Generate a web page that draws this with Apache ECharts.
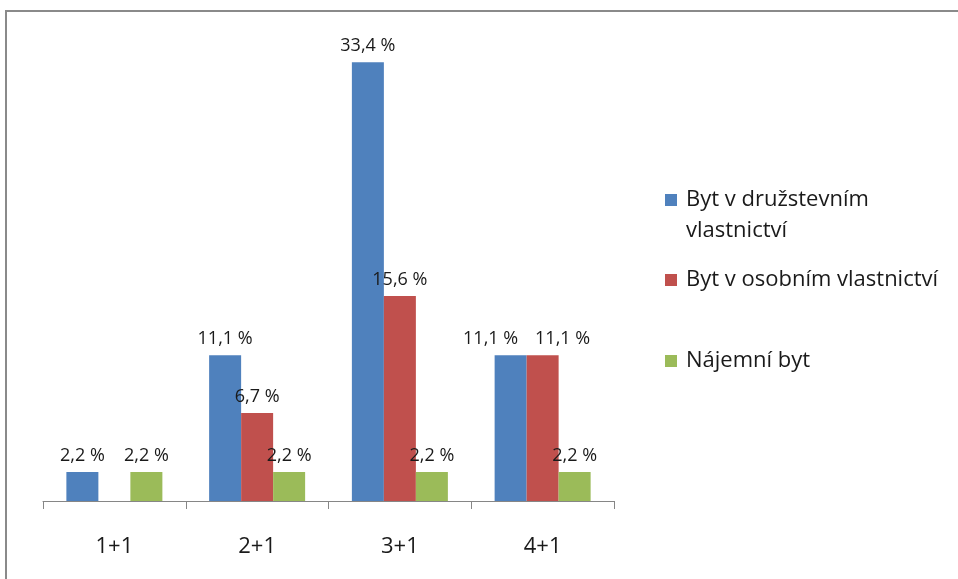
<!DOCTYPE html>
<html>
<head>
<meta charset="utf-8">
<script src="https://cdn.jsdelivr.net/npm/echarts@6/dist/echarts.min.js"></script>
<style>
  html, body { margin: 0; padding: 0; background: #fff; }
  #chart { width: 958px; height: 579px; }
</style>
</head>
<body>
<div id="chart"></div>
<script>
// Apartment types and shares by ownership type (%)
const categories = ['1+1', '2+1', '3+1', '4+1'];
const seriesNames = ['Byt v družstevním vlastnictví', 'Byt v osobním vlastnictví', 'Nájemní byt'];
const druzstevni = [2.2, 11.1, 33.4, 11.1];
const osobni = [null, 6.7, 15.6, 11.1];
const najemni = [2.2, 2.2, 2.2, 2.2];
const colors = ['#4F81BD', '#C0504D', '#9BBB59'];

const FONT = '"Open Sans", "Liberation Sans", sans-serif';

function pct(p) {
  return p.value.toFixed(1).replace('.', ',') + ' %';
}

// Side-by-side labels in the last group are nudged apart so they don't collide
function withLabelOffsets(values, offsets) {
  return values.map(function (v, i) {
    if (offsets && offsets[i]) {
      return { value: v, label: { offset: [offsets[i], 0] } };
    }
    return v;
  });
}

function barSeries(name, values, color, offsets) {
  return {
    name: name,
    type: 'bar',
    data: withLabelOffsets(values, offsets),
    barWidth: 32,
    barGap: '0%',
    itemStyle: { color: color },
    label: {
      show: true,
      position: 'top',
      distance: 7,
      formatter: pct,
      fontFamily: FONT,
      fontSize: 18,
      color: '#1a1a1a'
    }
  };
}

function legendAt(name, top, label) {
  return {
    left: 665,
    top: top,
    padding: 0,
    orient: 'vertical',
    data: [name],
    icon: 'rect',
    itemWidth: 12,
    itemHeight: 12,
    itemGap: 0,
    formatter: function () { return label; },
    textStyle: { fontFamily: FONT, fontSize: 22, color: '#1a1a1a', padding: [0, 0, 0, 4] },
    selectedMode: false
  };
}

const chart = echarts.init(document.getElementById('chart'), null, { renderer: 'canvas' });
chart.setOption({
  backgroundColor: '#ffffff',
  animation: false,
  grid: { left: 43, right: 344, top: 28, bottom: 78, containLabel: false },
  xAxis: {
    type: 'category',
    data: categories,
    axisLine: { show: true, lineStyle: { color: '#868686', width: 1 } },
    axisTick: { show: true, alignWithLabel: false, length: 8, lineStyle: { color: '#868686', width: 1 } },
    axisLabel: { margin: 35, fontFamily: FONT, fontSize: 22, color: '#1a1a1a' }
  },
  yAxis: {
    type: 'value',
    min: 0,
    max: 36,
    show: false
  },
  legend: [
    legendAt(seriesNames[0], 189, 'Byt v družstevním'),
    legendAt(seriesNames[1], 269, seriesNames[1]),
    legendAt(seriesNames[2], 350, seriesNames[2])
  ],
  series: [
    barSeries(seriesNames[0], druzstevni, colors[0], [0, 0, 0, -20]),
    barSeries(seriesNames[1], osobni, colors[1], [0, 0, 0, 20]),
    barSeries(seriesNames[2], najemni, colors[2])
  ],
  graphic: [
    {
      type: 'rect',
      silent: true,
      shape: { x: 6, y: 11, width: 1200, height: 1200 },
      style: { fill: 'none', stroke: '#8a8a8a', lineWidth: 2 }
    },
    {
      type: 'text',
      silent: true,
      left: 686,
      top: 220,
      style: { text: 'vlastnictví', font: '22px ' + FONT, fill: '#1a1a1a' }
    }
  ]
});
</script>
</body>
</html>
